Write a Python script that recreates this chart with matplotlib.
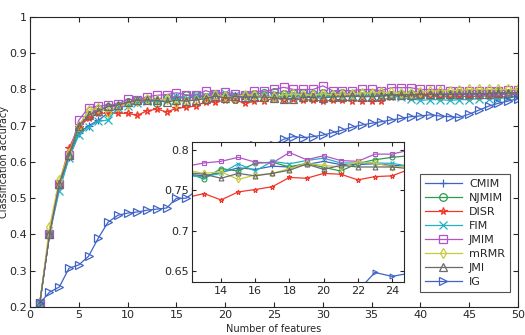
import matplotlib
matplotlib.use('Agg')
import matplotlib.pyplot as plt
import numpy as np

n_features = list(range(1, 51))

cmim = [0.21, 0.40, 0.53, 0.615, 0.68, 0.70, 0.715, 0.735, 0.75, 0.765,
        0.765, 0.77, 0.768, 0.772, 0.778, 0.776, 0.78, 0.779, 0.782, 0.786,
        0.782, 0.782, 0.783, 0.781, 0.78, 0.78, 0.782, 0.782, 0.78, 0.782,
        0.782, 0.784, 0.785, 0.783, 0.785, 0.785, 0.785, 0.785, 0.787, 0.785,
        0.783, 0.785, 0.785, 0.787, 0.787, 0.787, 0.785, 0.787, 0.787, 0.785]
njmim = [0.21, 0.40, 0.54, 0.62, 0.69, 0.73, 0.745, 0.752, 0.755, 0.765,
         0.77, 0.772, 0.764, 0.777, 0.774, 0.7835, 0.785, 0.779, 0.7835, 0.7785,
         0.774, 0.7835, 0.788, 0.791, 0.793, 0.788, 0.79, 0.79, 0.788, 0.79,
         0.788, 0.79, 0.788, 0.79, 0.79, 0.788, 0.785, 0.787, 0.787, 0.787,
         0.785, 0.787, 0.788, 0.79, 0.79, 0.79, 0.79, 0.792, 0.79, 0.792]
disr = [0.21, 0.40, 0.54, 0.638, 0.697, 0.72, 0.735, 0.734, 0.735, 0.734,
        0.729, 0.741, 0.746, 0.738, 0.748, 0.751, 0.7545, 0.766, 0.765, 0.771,
        0.770, 0.763, 0.767, 0.768, 0.776, 0.772, 0.774, 0.771, 0.771, 0.768,
        0.770, 0.770, 0.769, 0.768, 0.768, 0.768, 0.78, 0.782, 0.78, 0.782,
        0.782, 0.78, 0.78, 0.782, 0.78, 0.782, 0.782, 0.78, 0.78, 0.782]
fim = [0.21, 0.40, 0.52, 0.61, 0.674, 0.697, 0.712, 0.716, 0.75, 0.755,
       0.762, 0.768, 0.767, 0.771, 0.783, 0.774, 0.786, 0.783, 0.787, 0.790,
       0.784, 0.784, 0.784, 0.7835, 0.78, 0.785, 0.783, 0.785, 0.785, 0.782,
       0.782, 0.78, 0.78, 0.782, 0.782, 0.783, 0.782, 0.778, 0.775, 0.77,
       0.772, 0.772, 0.77, 0.772, 0.772, 0.775, 0.775, 0.775, 0.778, 0.78]
jmim = [0.21, 0.40, 0.54, 0.62, 0.715, 0.75, 0.754, 0.757, 0.76, 0.773,
        0.771, 0.78, 0.784, 0.786, 0.791, 0.785, 0.784, 0.797, 0.788, 0.793,
        0.787, 0.786, 0.795, 0.795, 0.80, 0.806, 0.80, 0.80, 0.80, 0.81,
        0.797, 0.797, 0.797, 0.80, 0.80, 0.797, 0.805, 0.805, 0.805, 0.80,
        0.80, 0.80, 0.797, 0.797, 0.797, 0.797, 0.797, 0.797, 0.798, 0.798]
mrmr = [0.21, 0.42, 0.55, 0.625, 0.70, 0.743, 0.748, 0.738, 0.755, 0.76,
        0.768, 0.775, 0.771, 0.773, 0.7636, 0.769, 0.771, 0.777, 0.7835, 0.781,
        0.779, 0.7855, 0.784, 0.779, 0.78, 0.785, 0.788, 0.785, 0.785, 0.788,
        0.785, 0.787, 0.787, 0.79, 0.79, 0.792, 0.792, 0.79, 0.79, 0.792,
        0.795, 0.797, 0.797, 0.798, 0.80, 0.80, 0.80, 0.80, 0.80, 0.80]
jmi = [0.21, 0.40, 0.54, 0.62, 0.70, 0.729, 0.74, 0.754, 0.757, 0.765,
       0.77, 0.772, 0.770, 0.765, 0.771, 0.768, 0.771, 0.775, 0.7826, 0.776,
       0.781, 0.779, 0.779, 0.779, 0.777, 0.775, 0.775, 0.778, 0.778, 0.776,
       0.78, 0.78, 0.782, 0.78, 0.78, 0.782, 0.785, 0.785, 0.785, 0.787,
       0.787, 0.787, 0.787, 0.787, 0.788, 0.788, 0.788, 0.79, 0.79, 0.79]
ig = [0.21, 0.241, 0.255, 0.307, 0.316, 0.34, 0.39, 0.434, 0.453, 0.459,
      0.462, 0.467, 0.47, 0.473, 0.50, 0.50, 0.52, 0.54, 0.565, 0.585,
      0.605, 0.625, 0.648, 0.643, 0.647, 0.663, 0.670, 0.667, 0.670, 0.674,
      0.681, 0.688, 0.696, 0.702, 0.707, 0.711, 0.716, 0.720, 0.725, 0.727,
      0.730, 0.727, 0.725, 0.723, 0.732, 0.743, 0.754, 0.762, 0.768, 0.775]

series = [('CMIM', cmim, '#3F63C6', '+'),
          ('NJMIM', njmim, '#2E9A4E', 'o'),
          ('DISR', disr, '#F0382A', '*'),
          ('FIM', fim, '#22B2C2', 'x'),
          ('JMIM', jmim, '#B055C8', 's'),
          ('mRMR', mrmr, '#C9C93E', 'd'),
          ('JMI', jmi, '#6A6A6A', '^'),
          ('IG', ig, '#3F63C6', '>')]

txt = '#262626'
plt.rcParams['font.family'] = 'DejaVu Sans'
plt.rcParams['font.size'] = 8

fig = plt.figure(figsize=(5.25, 3.35), dpi=100)
ax = fig.add_axes([0.0571, 0.0836, 0.9295, 0.8657])

handles = []
for name, vals, col, mk in series:
    h, = ax.plot(n_features, vals, color=col, marker=mk, markersize=5.5,
                 markerfacecolor='none', markeredgecolor=col, linewidth=0.9,
                 markeredgewidth=0.9, label=name)
    handles.append(h)

ax.set_xlim(0, 50)
ax.set_ylim(0.2, 1.0)
ax.set_xticks(np.arange(0, 51, 5))
ax.set_yticks(np.arange(0.2, 1.01, 0.1))
ax.set_yticklabels(['0.2', '0.3', '0.4', '0.5', '0.6', '0.7', '0.8', '0.9', '1'])
ax.tick_params(direction='in', top=True, right=True, colors=txt, length=3.5,
               labelsize=8, pad=2.5)
for s in ax.spines.values():
    s.set_color(txt)
ax.set_xlabel('Number of features', color=txt, fontsize=7)
ax.set_ylabel('Classification accuracy', color=txt, fontsize=7)
ax.xaxis.set_label_coords(0.5, -0.058)
ax.yaxis.set_label_coords(-0.043, 0.5)

# zoomed inset
ins = fig.add_axes([0.3657, 0.158, 0.4038, 0.418])
for name, vals, col, mk in series:
    ins.plot(n_features, vals, color=col, marker=mk, markersize=3.5,
             markerfacecolor='none', markeredgecolor=col, linewidth=0.9,
             markeredgewidth=0.8)
ins.set_xlim(12.3, 24.7)
ins.set_ylim(0.636, 0.81)
ins.set_xticks([14, 16, 18, 20, 22, 24])
ins.set_yticks([0.65, 0.7, 0.75, 0.8])
ins.set_yticklabels(['0.65', '0.7', '0.75', '0.8'])
ins.tick_params(direction='in', top=True, right=True, colors=txt, length=3,
                labelsize=8, pad=2.5)
for s in ins.spines.values():
    s.set_color(txt)

leg = ax.legend(handles=handles, loc='lower right',
                bbox_to_anchor=(0.9714, 0.1284), bbox_transform=fig.transFigure,
                borderaxespad=0, fontsize=8, frameon=True, fancybox=False,
                edgecolor=txt, handlelength=3.4, labelspacing=0.36,
                borderpad=0.45, handletextpad=0.6)
leg.get_frame().set_linewidth(0.8)
for t in leg.get_texts():
    t.set_color(txt)
leg.set_zorder(10)

plt.savefig('out.png', dpi=100)
